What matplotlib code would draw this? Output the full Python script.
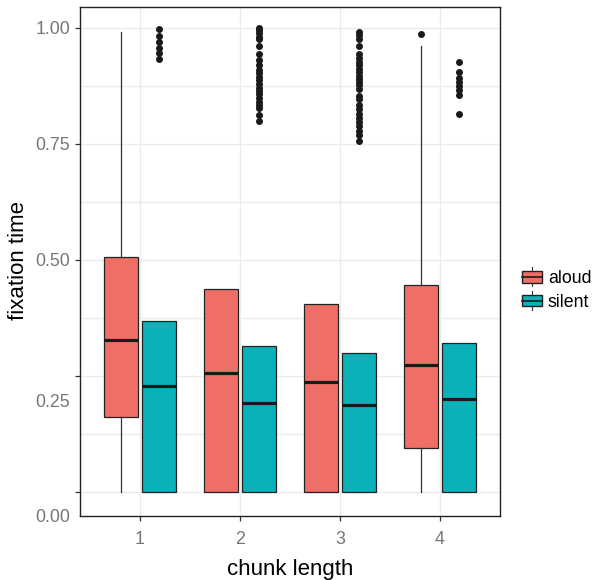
import matplotlib
matplotlib.use("Agg")
import matplotlib.pyplot as plt
import numpy as np
from matplotlib.patches import Rectangle
from matplotlib.lines import Line2D
from matplotlib.legend_handler import HandlerBase
from matplotlib.ticker import FixedLocator, FixedFormatter

plt.rcParams['font.family'] = ['Liberation Sans', 'DejaVu Sans']

# ---- data ----
chunk = [1, 2, 3, 4]
groups = ["aloud", "silent"]

aloud_q1 = [0.161, 0.0, 0.0, 0.095]
aloud_med = [0.327, 0.256, 0.236, 0.273]
aloud_q3 = [0.507, 0.4375, 0.406, 0.445]
aloud_lo = [0.0, 0.0, 0.0, 0.0]
aloud_hi = [0.992, 0.4375, 0.406, 0.961]
aloud_out = [[], [], [], [0.986]]

silent_q1 = [0.0, 0.0, 0.0, 0.0]
silent_med = [0.228, 0.191, 0.187, 0.200]
silent_q3 = [0.368, 0.315, 0.300, 0.322]
silent_lo = [0.0, 0.0, 0.0, 0.0]
silent_hi = [0.368, 0.315, 0.300, 0.322]
silent_out = [
    [0.997, 0.983, 0.970, 0.957, 0.945, 0.933],
    [1.0, 0.996, 0.989, 0.981, 0.976, 0.961, 0.944, 0.931, 0.921, 0.910, 0.902,
     0.895, 0.888, 0.879, 0.871, 0.864, 0.857, 0.850, 0.841, 0.834, 0.827, 0.812, 0.799],
    [0.991, 0.985, 0.976, 0.961, 0.943, 0.935, 0.927, 0.919, 0.912, 0.905, 0.897,
     0.890, 0.883, 0.876, 0.869, 0.854, 0.847, 0.834, 0.825, 0.814, 0.806, 0.797,
     0.789, 0.778, 0.769, 0.756],
    [0.926, 0.905, 0.892, 0.883, 0.874, 0.866, 0.856, 0.814],
]

y_ticks = [0.0, 0.25, 0.5, 0.75, 1.0]
y_tick_labels = ["0.00", "0.25", "0.50", "0.75", "1.00"]

colors = {"aloud": "#EF6F67", "silent": "#0BB1B8"}

# ---- figure ----
W, H = 596, 580
fig = plt.figure(figsize=(W / 100, H / 100), dpi=100)
ax = fig.add_axes([80 / W, (H - 516) / H, 420 / W, 509 / H])

ax.set_xlim(0.4, 4.6)
ax.set_ylim(-0.0517, 1.045)

# grid
for v in np.arange(0, 1.001, 0.125):
    ax.axhline(v, color="#EBEBEB", lw=1.0, zorder=0)
for c in chunk:
    ax.axvline(c, color="#EBEBEB", lw=1.0, zorder=0)

def stats(q1, med, q3, lo, hi, out):
    return [dict(q1=a, med=b, q3=c, whislo=d, whishi=e, fliers=f)
            for a, b, c, d, e, f in zip(q1, med, q3, lo, hi, out)]

offset = 0.19
width = 0.34
for g, sts, off in [("aloud", stats(aloud_q1, aloud_med, aloud_q3, aloud_lo, aloud_hi, aloud_out), -offset),
                    ("silent", stats(silent_q1, silent_med, silent_q3, silent_lo, silent_hi, silent_out), offset)]:
    ax.bxp(sts, positions=[c + off for c in chunk], widths=width, patch_artist=True,
           showcaps=False,
           boxprops=dict(facecolor=colors[g], edgecolor="#222222", linewidth=0.9),
           medianprops=dict(color="#1A1A1A", linewidth=2.3, solid_capstyle="butt"),
           whiskerprops=dict(color="#333333", linewidth=0.9),
           flierprops=dict(marker="o", markersize=4.0, markerfacecolor="#1A1A1A",
                           markeredgecolor="#1A1A1A", linestyle="none"),
           manage_ticks=False, zorder=2)

ax.set_xticks(chunk)
ax.set_xticklabels([str(c) for c in chunk])

# y ticks: marks at breaks, labels as rendered in the reference
ax.yaxis.set_major_locator(FixedLocator(y_ticks))
ax.yaxis.set_major_formatter(FixedFormatter(["", "", "0.50", "0.75", "1.00"]))
ax.yaxis.set_minor_locator(FixedLocator([-0.0517, 0.197]))
ax.yaxis.set_minor_formatter(FixedFormatter([y_tick_labels[0], y_tick_labels[1]]))
ax.tick_params(axis="y", which="minor", length=0, pad=7.3, labelsize=12.8, labelcolor="#777777")

ax.tick_params(axis="both", which="major", length=3.5, width=0.9, color="#333333",
               labelsize=12.8, labelcolor="#777777")
ax.tick_params(axis="y", which="major", pad=3.5)
ax.tick_params(axis="x", which="major", pad=7.5)

for s in ax.spines.values():
    s.set_color("#222222")
    s.set_linewidth(1.0)

fig.text(18.5 / W, 1 - 261 / H, "fixation time", rotation=90, ha="center", va="center",
         fontsize=16, color="black")
fig.text(290 / W, (H - 575) / H, "chunk length", ha="center", va="baseline",
         fontsize=16, color="black")

# legend with boxplot glyph keys
class BoxHandler(HandlerBase):
    def create_artists(self, legend, orig_handle, xdescent, ydescent, width, height, fontsize, trans):
        x0, y0 = -xdescent, -ydescent
        bh = height * 0.62
        by = y0 + (height - bh) / 2
        rect = Rectangle((x0, by), width, bh, facecolor=orig_handle.get_facecolor(),
                         edgecolor="#222222", linewidth=1.0, transform=trans)
        med = Line2D([x0, x0 + width], [y0 + height / 2] * 2, color="#1A1A1A", lw=1.2, transform=trans)
        wt = Line2D([x0 + width / 2] * 2, [by + bh, y0 + height], color="#333333", lw=0.8, transform=trans)
        wb = Line2D([x0 + width / 2] * 2, [y0, by], color="#333333", lw=0.8, transform=trans)
        return [rect, med, wt, wb]

handles = [Rectangle((0, 0), 1, 1, facecolor=colors[g]) for g in groups]
leg = fig.legend(handles, groups, handler_map={Rectangle: BoxHandler()},
                 loc="center left", bbox_to_anchor=(522 / W, 1 - 289 / H),
                 frameon=False, fontsize=12.8, handlelength=1.1, handleheight=1.25,
                 handletextpad=0.35, labelspacing=0.25, borderaxespad=0, borderpad=0)

fig.savefig("out.png", dpi=100)
